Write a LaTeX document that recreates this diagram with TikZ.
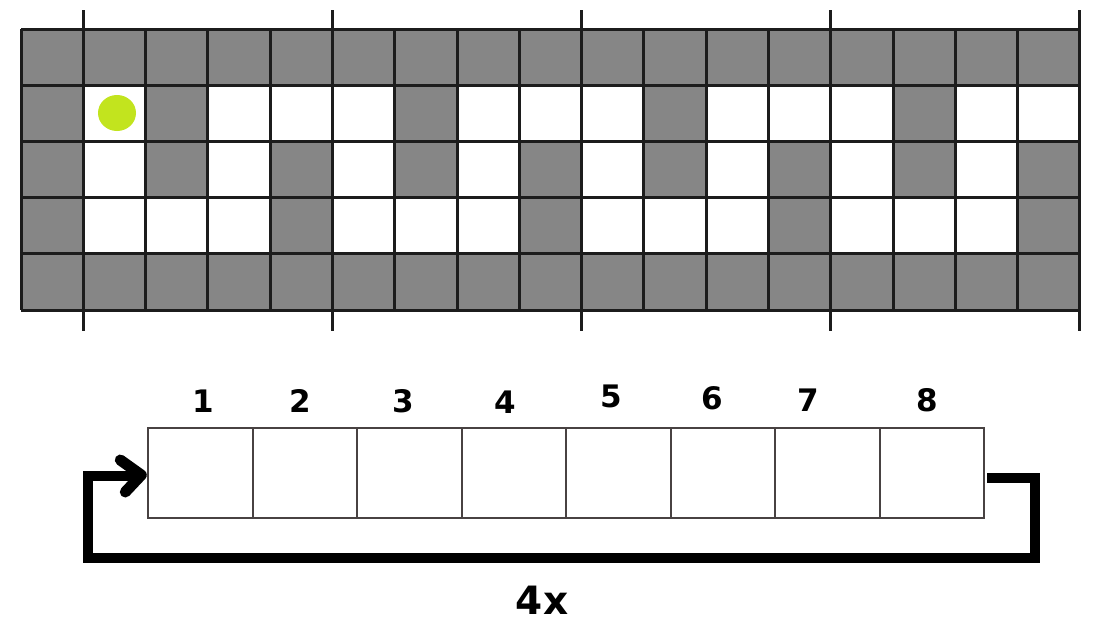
\documentclass[tikz,border=0pt]{standalone}
\usepackage{fontspec}
\setmainfont{DejaVu Sans}
\usetikzlibrary{arrows.meta}
\definecolor{cellgray}{RGB}{134,134,134}
\definecolor{gridink}{RGB}{28,28,28}
\definecolor{dotgreen}{RGB}{194,228,30}
\definecolor{boxline}{RGB}{72,66,66}
\begin{document}
\begin{tikzpicture}[x=1pt,y=-1pt,
  gridline/.style={draw=gridink,line width=3pt},
  slot/.style={draw=boxline,line width=2.2pt,minimum width=104.5pt,minimum height=90pt,inner sep=0pt,outer sep=0pt},
  numlabel/.style={inner sep=0pt,font=\fontsize{31}{31}\selectfont\bfseries},
  countlabel/.style={inner sep=0pt,font=\fontsize{39}{39}\selectfont\bfseries},
  loopline/.style={draw=black,line width=10pt,line join=miter,line cap=butt},
  chevron/.style={draw=black,line width=11pt,line join=round,line cap=round}]
\useasboundingbox (0,0) rectangle (1114,632);
\fill[white] (0,0) rectangle (1114,632);
% grid background
\fill[cellgray] (21,29) rectangle (1080,310);
\foreach \c in {1,3,4,5,7,8,9,11,12,13,15,16}
  \fill[white] ({21+\c*62.29},{29+1*56.2}) rectangle +(62.29,56.2);
\foreach \c in {1,3,5,7,9,11,13,15}
  \fill[white] ({21+\c*62.29},{29+2*56.2}) rectangle +(62.29,56.2);
\foreach \c in {1,2,3,5,6,7,9,10,11,13,14,15}
  \fill[white] ({21+\c*62.29},{29+3*56.2}) rectangle +(62.29,56.2);
% grid lines
\foreach \c in {0,...,17}
  \draw[gridline] ({21+\c*62.29},29) -- ({21+\c*62.29},310);
\foreach \r in {0,...,5}
  \draw[gridline] (21,{29+\r*56.2}) -- (1080,{29+\r*56.2});
\foreach \c in {1,5,9,13,17}
  \draw[gridline] ({21+\c*62.29},10) -- ({21+\c*62.29},331);
% green dot
\fill[dotgreen] (117,113) ellipse [x radius=19pt,y radius=18pt];
% slots
\foreach \i in {1,...,8}
  \node[slot] (b\i) at ({148.3+(\i-0.5)*104.5},473.3) {};
% numbers
\node[numlabel] (n1) at (203,401) {1};
\node[numlabel] (n2) at (300,401) {2};
\node[numlabel] (n3) at (403,401) {3};
\node[numlabel] (n4) at (505,402) {4};
\node[numlabel] (n5) at (611,396) {5};
\node[numlabel] (n6) at (712,398) {6};
\node[numlabel] (n7) at (808,400) {7};
\node[numlabel] (n8) at (927,400) {8};
% loop connector
\coordinate (loopstart) at ([xshift=3pt]b8.east |- 0,478);
\coordinate (looptip) at ([xshift=-7pt]b1.west |- 0,475);
\coordinate (lineend) at ([xshift=-9pt]b1.west |- 0,476);
\draw[loopline] (loopstart) -- (1035,478) -- (1035,558) -- (88,558) -- (88,476) -- (lineend);
\draw[chevron] ([xshift=-21pt,yshift=15pt]looptip) -- (looptip) -- ([xshift=-16pt,yshift=-17pt]looptip);
\node[countlabel] (count) at (542,600) {4x};
\end{tikzpicture}
\end{document}
